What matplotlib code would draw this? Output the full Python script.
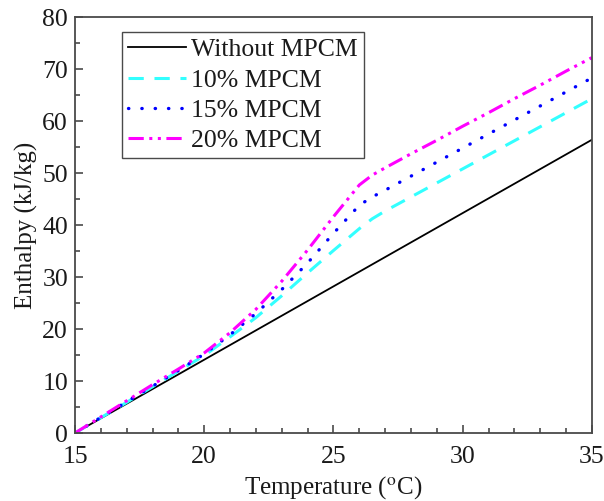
import matplotlib
matplotlib.use("Agg")
import matplotlib.pyplot as plt
from matplotlib.ticker import MultipleLocator

plt.rcParams['font.family'] = ['Liberation Serif', 'DejaVu Serif']
plt.rcParams['mathtext.fontset'] = 'stix'

temp_base = [15, 20, 25, 30, 35]
h_base = [0, 14.1, 28.2, 42.3, 56.4]

temp = [15, 16, 17, 18, 19, 20, 21, 22, 23, 24, 25, 26, 26.5, 27, 28, 29, 30, 31, 32, 33, 34, 35]
h_10 = [0, 2.95, 5.9, 8.9, 11.9, 14.9, 18.5, 22.2, 26.4, 30.8, 35.1, 39.3, 41.2, 42.7, 45.4, 48.1, 50.8, 53.5, 56.2, 58.9, 61.6, 64.3]
h_15 = [0, 3.0, 6.0, 9.0, 12.0, 15.2, 18.9, 23.0, 27.6, 32.7, 38.4, 43.8, 45.4, 46.7, 49.4, 52.1, 54.8, 57.5, 60.2, 62.9, 65.6, 68.3]
h_20 = [0, 3.1, 6.2, 9.3, 12.3, 15.4, 19.3, 23.8, 29.2, 35.2, 41.6, 47.7, 49.6, 51.0, 53.7, 56.3, 59.0, 61.6, 64.3, 66.9, 69.6, 72.2]

labels = ['Without MPCM', '10% MPCM', '15% MPCM', '20% MPCM']

fig = plt.figure(figsize=(6.04, 5.01), dpi=100)
ax = fig.add_axes([0.1242, 0.1357, 0.8558, 0.8303])

ax.plot(temp_base, h_base, color='black', lw=1.3, label=labels[0])
ax.plot(temp, h_10, color='#33ffff', lw=2.2, linestyle=(0, (5, 3.5)), label=labels[1])
ax.plot(temp, h_15, color='#0000ff', lw=2.4, linestyle=(0, (0.1, 3.9)), dash_capstyle='round', label=labels[2])
ax.plot(temp, h_20, color='#ff00ff', lw=2.2, linestyle=(0, (5, 1.8, 1, 1.8, 1, 1.8)), label=labels[3])

ax.set_xlim(15, 35)
ax.set_ylim(0, 80)
ax.xaxis.set_major_locator(MultipleLocator(5))
ax.xaxis.set_minor_locator(MultipleLocator(1))
ax.yaxis.set_major_locator(MultipleLocator(10))
ax.yaxis.set_minor_locator(MultipleLocator(5))
spine_col = '#4a4a4a'
for s in ax.spines.values():
    s.set_color(spine_col)
    s.set_linewidth(1.3)
ax.tick_params(which='both', direction='in', top=False, right=False, color=spine_col, width=1.2, labelsize=18.5, labelcolor='#1a1a1a')
ax.tick_params(which='major', length=6)
ax.tick_params(which='minor', length=3.5)
ax.tick_params(axis='x', which='major', pad=9)
ax.tick_params(axis='y', which='major', pad=5)

ax.set_xlabel(r'Temperature ($^{\mathrm{o}}$C)', fontsize=18, color='#1a1a1a', labelpad=5)
ax.set_ylabel('Enthalpy (kJ/kg)', fontsize=18, color='#1a1a1a', labelpad=3)

leg = ax.legend(loc='upper left', bbox_to_anchor=(0.091, 0.964), fontsize=18.5, frameon=True, fancybox=False,
                edgecolor='#4a4a4a', framealpha=1, handlelength=2.25, handletextpad=0.2,
                labelspacing=0.28, borderpad=0.25, borderaxespad=0)
leg.get_frame().set_linewidth(1.0)
for t in leg.get_texts():
    t.set_color('#1a1a1a')

fig.savefig('out.png', dpi=100)
